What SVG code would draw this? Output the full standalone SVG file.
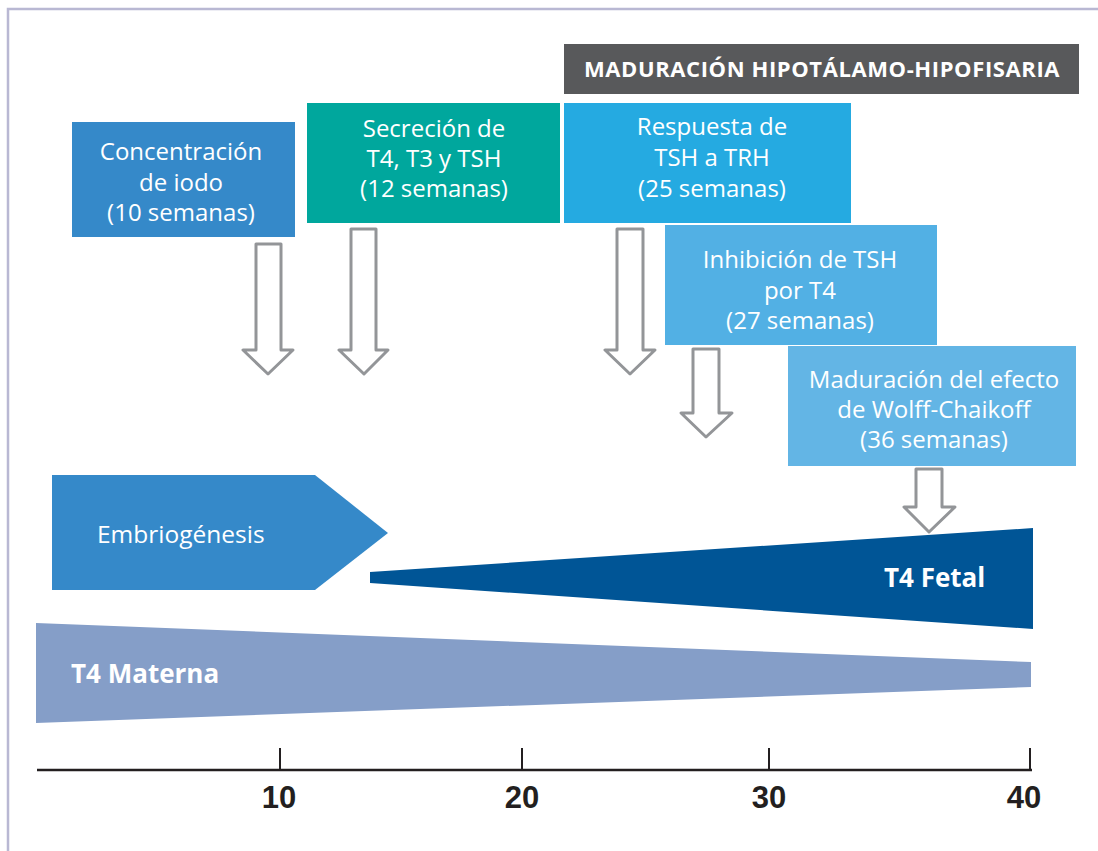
<svg xmlns="http://www.w3.org/2000/svg" width="1098" height="851" viewBox="0 0 1098 851">
<style>
.t{font-family:"Open Sans","Liberation Sans",Arial,sans-serif;font-size:24px;fill:#ffffff;text-anchor:middle}
.b{font-family:"Open Sans","Liberation Sans",Arial,sans-serif;font-weight:bold;fill:#ffffff}
.ar{fill:#ffffff;stroke:#939598;stroke-width:3;stroke-linejoin:round}
.ax{font-family:"Liberation Sans",Arial,sans-serif;font-weight:bold;font-size:31px;fill:#231f20;text-anchor:middle}
</style>
<rect width="1098" height="851" fill="#ffffff"/>
<path d="M8 851 V9 H1098" fill="none" stroke="#b9b8d3" stroke-width="2.5"/>

<g id="header">
<rect x="564" y="44" width="515" height="50" fill="#58595b"/>
<text class="b" x="822" y="77" font-size="22" letter-spacing="0.6" text-anchor="middle">MADURACIÓN HIPOTÁLAMO-HIPOFISARIA</text>
</g>

<g id="concentracion">
<rect x="72" y="122" width="223" height="115" fill="#3589c9"/>
<text class="t" x="181" y="160">Concentración</text>
<text class="t" x="181" y="191">de iodo</text>
<text class="t" x="181" y="221">(10 semanas)</text>
</g>

<g id="secrecion">
<rect x="307" y="103" width="253" height="120" fill="#00a79d"/>
<text class="t" x="434" y="137">Secreción de</text>
<text class="t" x="434" y="167">T4, T3 y TSH</text>
<text class="t" x="434" y="197">(12 semanas)</text>
</g>

<g id="respuesta">
<rect x="564" y="103" width="287" height="120" fill="#25aae1"/>
<text class="t" x="712" y="135">Respuesta de</text>
<text class="t" x="712" y="166">TSH a TRH</text>
<text class="t" x="712" y="197">(25 semanas)</text>
</g>

<g id="inhibicion">
<rect x="665" y="225" width="272" height="120" fill="#52b0e4"/>
<text class="t" x="800" y="268">Inhibición de TSH</text>
<text class="t" x="800" y="299">por T4</text>
<text class="t" x="800" y="329">(27 semanas)</text>
</g>

<g id="maduracion">
<rect x="788" y="346" width="288" height="120" fill="#63b5e5"/>
<text class="t" x="934" y="388">Maduración del efecto</text>
<text class="t" x="934" y="418">de Wolff-Chaikoff</text>
<text class="t" x="934" y="448">(36 semanas)</text>
</g>

<g id="embriogenesis">
<polygon points="52,475 315,475 388,533 315,590 52,590" fill="#3589c9"/>
<text x="97" y="543" font-family="Open Sans,Liberation Sans,Arial,sans-serif" font-size="24.5" fill="#ffffff">Embriogénesis</text>
</g>

<g id="t4fetal">
<polygon points="370,572 1033,528 1033,629 370,583" fill="#005596"/>
<text class="b" x="884" y="587" font-size="26">T4 Fetal</text>
</g>

<g id="t4materna">
<polygon points="36,623 1031,662 1031,687 36,723" fill="#859ec8"/>
<text class="b" x="71" y="683" font-size="26">T4 Materna</text>
</g>

<g id="connectors">
<path class="ar" d="M256 244 H281 V350 H293 L268 374 L243 350 H256 Z"/>
<path class="ar" d="M351 229 H376 V350 H388 L364 374 L339 350 H351 Z"/>
<path class="ar" d="M617 229 H643 V350 H655 L630 374 L605 350 H617 Z"/>
<path class="ar" d="M693 349 H719 V413 H732 L706 437 L681 413 H693 Z"/>
<path class="ar" d="M916 469 H942 V507 H955 L929 532 L904 507 H916 Z"/>
</g>

<g id="axis">
<line x1="37" y1="770" x2="1032" y2="770" stroke="#231f20" stroke-width="2.5"/>
<g stroke="#231f20" stroke-width="2">
<line x1="280" y1="748" x2="280" y2="770"/>
<line x1="522" y1="748" x2="522" y2="770"/>
<line x1="769" y1="748" x2="769" y2="770"/>
<line x1="1030" y1="748" x2="1030" y2="770"/>
</g>
<text class="ax" x="279" y="808">10</text>
<text class="ax" x="522" y="808">20</text>
<text class="ax" x="769" y="808">30</text>
<text class="ax" x="1024" y="808">40</text>
</g>
</svg>
